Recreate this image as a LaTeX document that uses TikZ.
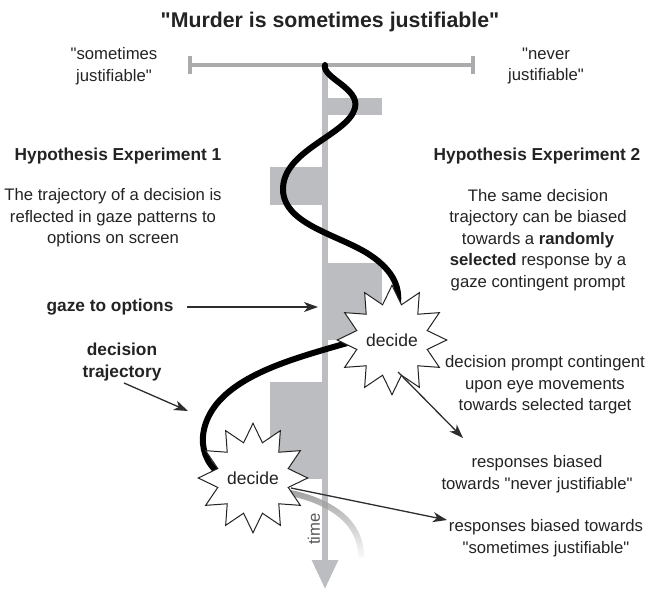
\documentclass[tikz,border=0pt]{standalone}
\usepackage{fontspec}
\setmainfont{Liberation Sans}[Ligatures=TeXOff]
\usetikzlibrary{arrows.meta,shapes.geometric,fadings}
\definecolor{barg}{RGB}{188,189,192}
\definecolor{scaleg}{RGB}{170,171,173}
\definecolor{txt}{RGB}{35,35,35}
\definecolor{arr}{RGB}{45,45,45}
\begin{document}
\begin{tikzpicture}[x=1pt,y=-1pt,
  lbl/.style={font=\fontsize{16.7}{21.5}\selectfont, text=txt, align=center, inner sep=0},
  blbl/.style={lbl, font=\fontsize{17.3}{22}\selectfont\bfseries},
  traj/.style={line width=6pt, line cap=round, black},
  pointer/.style={arr, line width=1.3pt, -{Stealth[length=14pt,width=10pt,inset=4pt]}},
  burst/.style={star, star points=12, star point ratio=1.5, minimum size=80pt, inner sep=0, draw=txt, line width=1pt, fill=white, font=\fontsize{17.5}{18}\selectfont, text=txt},
  hist/.style={fill=barg, draw=none},
  scalebar/.style={scaleg, line width=4pt}]
\useasboundingbox (0,0) rectangle (651,589);
% histogram bars
\fill[hist] (328,98) rectangle (382,115);
\fill[hist] (270,167) rectangle (323,205);
\fill[hist] (328,263) rectangle (382,340);
\fill[hist] (270,382) rectangle (323,479);
% time axis
\coordinate (ax0) at (325,66);
\coordinate (ax1) at (325,589);
\draw[barg, line width=6pt, -{Triangle[length=29pt,width=25pt]}] (ax0) -- (ax1);
% scale bar
\coordinate (sL) at (190,65);
\coordinate (sR) at (473,65);
\draw[scalebar] (sL) -- (sR);
\draw[scalebar] ([yshift=-9pt]sL) -- ([yshift=9pt]sL);
\draw[scalebar] ([yshift=-9pt]sR) -- ([yshift=9pt]sR);
% trajectories
\draw[traj] (325,65) .. controls (322,78) and (360,88) .. (355,108)
  .. controls (348,135) and (282,150) .. (283,190)
  .. controls (284,225) and (340,235) .. (370,255)
  .. controls (400,275) and (400,295) .. (397,310);
\draw[traj] (367,337) .. controls (320,352) and (255,365) .. (222,398)
  .. controls (195,425) and (195,465) .. (232,481);
\draw[line width=6pt, gray!75, path fading=south] (280,491) .. controls (335,500) and (362,525) .. (361,558);
% time label
\node[lbl, rotate=90, text=black!65] (time) at (314,529) {time};
% stars
\node[burst] (s1) at (392,340) {decide};
\node[burst] (s2) at (253,478) {decide};
% texts
\node[font=\fontsize{21.3}{24}\selectfont\bfseries, text=txt, inner sep=0] (title) at (330,22) {"Murder is sometimes justifiable"};
\node[lbl] (lsj) at (114,66) {"sometimes\\justifiable"};
\node[lbl] (rnj) at (546,66) {"never\\justifiable"};
\node[blbl] (h1) at (118,156) {Hypothesis Experiment 1};
\node[blbl] (h2) at (537,156) {Hypothesis Experiment 2};
\node[lbl] (p1) at (113,218) {The trajectory of a decision is\\reflected in gaze patterns to\\options on screen};
\node[lbl] (p2) at (538,240) {The same decision\\trajectory can be biased\\towards a \textbf{randomly}\\\textbf{selected} response by a\\gaze contingent prompt};
\node[blbl] (gaze) at (110,307) {gaze to options};
\node[blbl] (dtr) at (122,362) {decision\\trajectory};
\node[lbl] (dp) at (545,385) {decision prompt contingent\\upon eye movements\\towards selected target};
\node[lbl] (rn) at (537,474) {responses biased\\towards "never justifiable"};
\node[lbl] (rs) at (546,538) {responses biased towards\\"sometimes justifiable"};
% pointers
\coordinate (g0) at (187,307);
\coordinate (g1) at (318,307);
\draw[pointer] (g0) -- (g1);
\coordinate (d0) at (124,383);
\coordinate (d1) at (188,411);
\draw[pointer] (d0) -- (d1);
\coordinate (e0) at (398,372);
\coordinate (e1) at (463,438);
\draw[pointer] (e0) -- (e1);
\coordinate (f0) at (291,488);
\coordinate (f1) at (447,520);
\draw[pointer] (f0) -- (f1);
\end{tikzpicture}
\end{document}
